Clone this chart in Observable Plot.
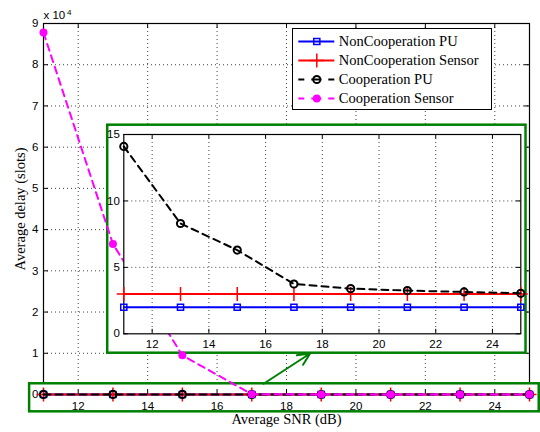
<!DOCTYPE html>
<html>
<head>
<meta charset="utf-8">
<script src="https://cdn.jsdelivr.net/npm/d3@7"></script>
<script src="https://cdn.jsdelivr.net/npm/@observablehq/plot@0.6"></script>
<style>
  body { margin: 0; background: #fff; }
  #chart { position: relative; width: 540px; height: 432px; overflow: hidden; background: #fff; }
  #chart svg { display: block; }
  .layer { position: absolute; }
  #inset { left: 108px; top: 125px; }
  #legend { left: 291.7px; top: 28.3px; border: 1px solid #000; background: #fff; }
</style>
</head>
<body>
<div id="chart">
  <div id="main" class="layer" style="left:0;top:0"></div>
  <div id="legend" class="layer"></div>
  <div id="inset" class="layer"></div>
</div>
<script>
// Average SNR (dB) at which each scheme was simulated
const snr = [11, 13, 15, 17, 19, 21, 23, 25];

// Average delay (slots) per scheme
const nonCoopPU     = [2.0, 2.0, 2.0, 2.0, 2.0, 2.0, 2.0, 2.0];
const nonCoopSensor = [3.0, 3.0, 3.0, 3.0, 3.0, 3.0, 3.0, 3.0];
const coopPU        = [14.1, 8.3, 6.3, 3.75, 3.4, 3.25, 3.15, 3.05];
const coopSensor    = [87800, 36500, 9500, 60, 12, 6, 4, 3.5];

const seriesNames = ["NonCooperation PU", "NonCooperation Sensor", "Cooperation PU", "Cooperation Sensor"];

// Axis ticks
const xTicks = [12, 14, 16, 18, 20, 22, 24];
const yTicksMain = [0, 1, 2, 3, 4, 5, 6, 7, 8, 9]; // in units of 10^yExponent
const yExponent = 4;
const yTicksInset = [0, 5, 10, 15];

// Annotations, in the main axes' data units:
// the box around the near-zero curves, the panel holding the magnified view, and the arrow between them
const zoomBox = {x1: 10.6, x2: 25.28, y1: -4200, y2: 2600};
const insetBox = {x1: 12.85, x2: 24.9, y1: 10020, y2: 65330};
const zoomArrow = {x1: 17.34, y1: 2600, x2: 18.68, y2: 9950};

const GREEN = "#008000";
const SANS = "'Liberation Sans', Arial, Helvetica, sans-serif";
const SERIF = "'Liberation Serif', 'Times New Roman', serif";

const styles = {
  [seriesNames[0]]: {values: nonCoopPU, color: "#0000ff", dash: null, symbol: "square2", r: 3.9, fill: "none", sw: 1.5},
  [seriesNames[1]]: {values: nonCoopSensor, color: "#ff0000", dash: null, symbol: "plus", r: 4.6, fill: "none", sw: 1.5},
  [seriesNames[2]]: {values: coopPU, color: "#000000", dash: "7,5", symbol: "circle", r: 3.6, fill: "none", sw: 2},
  [seriesNames[3]]: {values: coopSensor, color: "#ff00ff", dash: "7,5", symbol: "circle", r: 4, fill: "#ff00ff", sw: 0}
};

function seriesRows(name) {
  return snr.map((x, i) => ({x, y: styles[name].values[i]}));
}

function seriesMarks(name) {
  const s = styles[name];
  const rows = seriesRows(name);
  return [
    Plot.line(rows, {x: "x", y: "y", stroke: s.color, strokeWidth: 2, strokeDasharray: s.dash}),
    Plot.dot(rows, {
      x: "x", y: "y", symbol: s.symbol, r: s.r,
      fill: s.fill, stroke: s.fill === "none" ? s.color : "none", strokeWidth: s.sw
    })
  ];
}

// MATLAB-style inward tick marks on all four sides of the frame
function inwardTicks(xt, yt, w, h, len) {
  return [
    Plot.tickX(xt, {x: d => d, insetTop: h - len, stroke: "#000"}),
    Plot.tickX(xt, {x: d => d, insetBottom: h - len, stroke: "#000"}),
    Plot.tickY(yt, {y: d => d, insetRight: w - len, stroke: "#000"}),
    Plot.tickY(yt, {y: d => d, insetLeft: w - len, stroke: "#000"})
  ];
}

function dottedGrid(xt, yt) {
  return [
    Plot.gridX({ticks: xt, stroke: "#444", strokeOpacity: 1, strokeDasharray: "1,3"}),
    Plot.gridY({ticks: yt, stroke: "#444", strokeOpacity: 1, strokeDasharray: "1,3"})
  ];
}

// ---------- main axes ----------
const M = {left: 43, right: 11, top: 23, bottom: 38};
const mainW = 540 - M.left - M.right;
const mainH = 432 - M.top - M.bottom;
const yMainValues = yTicksMain.map(v => v * 10 ** yExponent);

const main = Plot.plot({
  width: 540,
  height: 432,
  marginLeft: M.left, marginRight: M.right, marginTop: M.top, marginBottom: M.bottom,
  x: {domain: [11, 25]},
  y: {domain: [0, 9 * 10 ** yExponent]},
  style: {fontFamily: SANS, fontSize: "11.5px", color: "#000", background: "transparent", overflow: "visible"},
  marks: [
    ...dottedGrid(xTicks, yMainValues.slice(1, -1)),
    Plot.frame({stroke: "#000", strokeWidth: 1.2}),
    Plot.rect([zoomBox], {x1: "x1", x2: "x2", y1: "y1", y2: "y2", fill: "#fff", stroke: GREEN, strokeWidth: 2.5}),
    ...inwardTicks(xTicks, yMainValues, mainW, mainH, 5),
    Plot.rect([insetBox], {x1: "x1", x2: "x2", y1: "y1", y2: "y2", fill: "#fff", stroke: GREEN, strokeWidth: 2.5}),
    Plot.axisX({ticks: xTicks, tickSize: 0, tickPadding: 7.5, label: null}),
    Plot.axisY({ticks: yMainValues, tickSize: 0, tickPadding: 5, label: null,
                tickFormat: d => String(d / 10 ** yExponent)}),
    Plot.arrow([zoomArrow], {x1: "x1", y1: "y1", x2: "x2", y2: "y2", stroke: GREEN, strokeWidth: 2,
                headLength: 10, headAngle: 50}),
    ...seriesNames.flatMap(seriesMarks),
    Plot.text(["x 10"], {frameAnchor: "top-left", textAnchor: "start", lineAnchor: "middle",
              dy: -8, fontSize: 11.5}),
    Plot.text([String(yExponent)], {frameAnchor: "top-left", textAnchor: "start", lineAnchor: "middle",
              dx: 23.5, dy: -11.5, fontSize: 8}),
    Plot.text(["Average delay (slots)"], {frameAnchor: "left", textAnchor: "middle", lineAnchor: "middle",
              dx: -23, rotate: -90, fontFamily: SERIF, fontSize: 14.5}),
    Plot.text(["Average SNR (dB)"], {frameAnchor: "bottom", textAnchor: "middle", lineAnchor: "middle",
              dy: 25, fontFamily: SERIF, fontSize: 14.5})
  ]
});
document.getElementById("main").append(main);

// ---------- magnified view (sits inside the green panel) ----------
const insetW = 416, insetH = 226;
const I = {left: 15.3, top: 9, right: 3.7, bottom: 17.7};
const inset = Plot.plot({
  width: insetW,
  height: insetH,
  marginLeft: I.left, marginRight: I.right, marginTop: I.top, marginBottom: I.bottom,
  x: {domain: [11, 25]},
  y: {domain: [0, 15]},
  style: {fontFamily: SANS, fontSize: "11.5px", color: "#000", background: "transparent", overflow: "visible"},
  marks: [
    Plot.frame({fill: "#fff", stroke: null}),
    ...dottedGrid(xTicks, yTicksInset.slice(1, -1)),
    Plot.frame({stroke: "#000", strokeWidth: 1.2}),
    ...inwardTicks(xTicks, yTicksInset, insetW - I.left - I.right, insetH - I.top - I.bottom, 4.5),
    Plot.axisX({ticks: xTicks, tickSize: 0, tickPadding: 6.5, label: null}),
    Plot.axisY({ticks: yTicksInset, tickSize: 0, tickPadding: 4, label: null}),
    ...seriesNames.slice(0, 3).flatMap(seriesMarks)
  ]
});
document.getElementById("inset").append(inset);

// ---------- legend ----------
const legendDash = {"#000000": "6,7,10,7,6", "#ff00ff": "6,7,10,7,6"};
const legend = Plot.plot({
  width: 198,
  height: 80,
  margin: 0,
  x: {domain: [0, 198], range: [0, 198], axis: null},
  y: {type: "point", domain: seriesNames, range: [11, 70.3], padding: 0, axis: null},
  style: {background: "#fff", overflow: "visible"},
  marks: seriesNames.flatMap(name => {
    const s = styles[name];
    return [
      Plot.ruleY([name], {y: d => d, x1: 5.3, x2: 41.3, stroke: s.color, strokeWidth: 2,
                          strokeDasharray: legendDash[s.color] ?? null}),
      Plot.dot([name], {y: d => d, x: 23.3, symbol: s.symbol, r: s.r, fill: s.fill,
                        stroke: s.fill === "none" ? s.color : "none", strokeWidth: s.sw}),
      Plot.text([name], {y: d => d, x: 45.3, text: d => d, textAnchor: "start",
                         fontFamily: SERIF, fontSize: 14.5, fill: "#000"})
    ];
  })
});
document.getElementById("legend").append(legend);
</script>
</body>
</html>
